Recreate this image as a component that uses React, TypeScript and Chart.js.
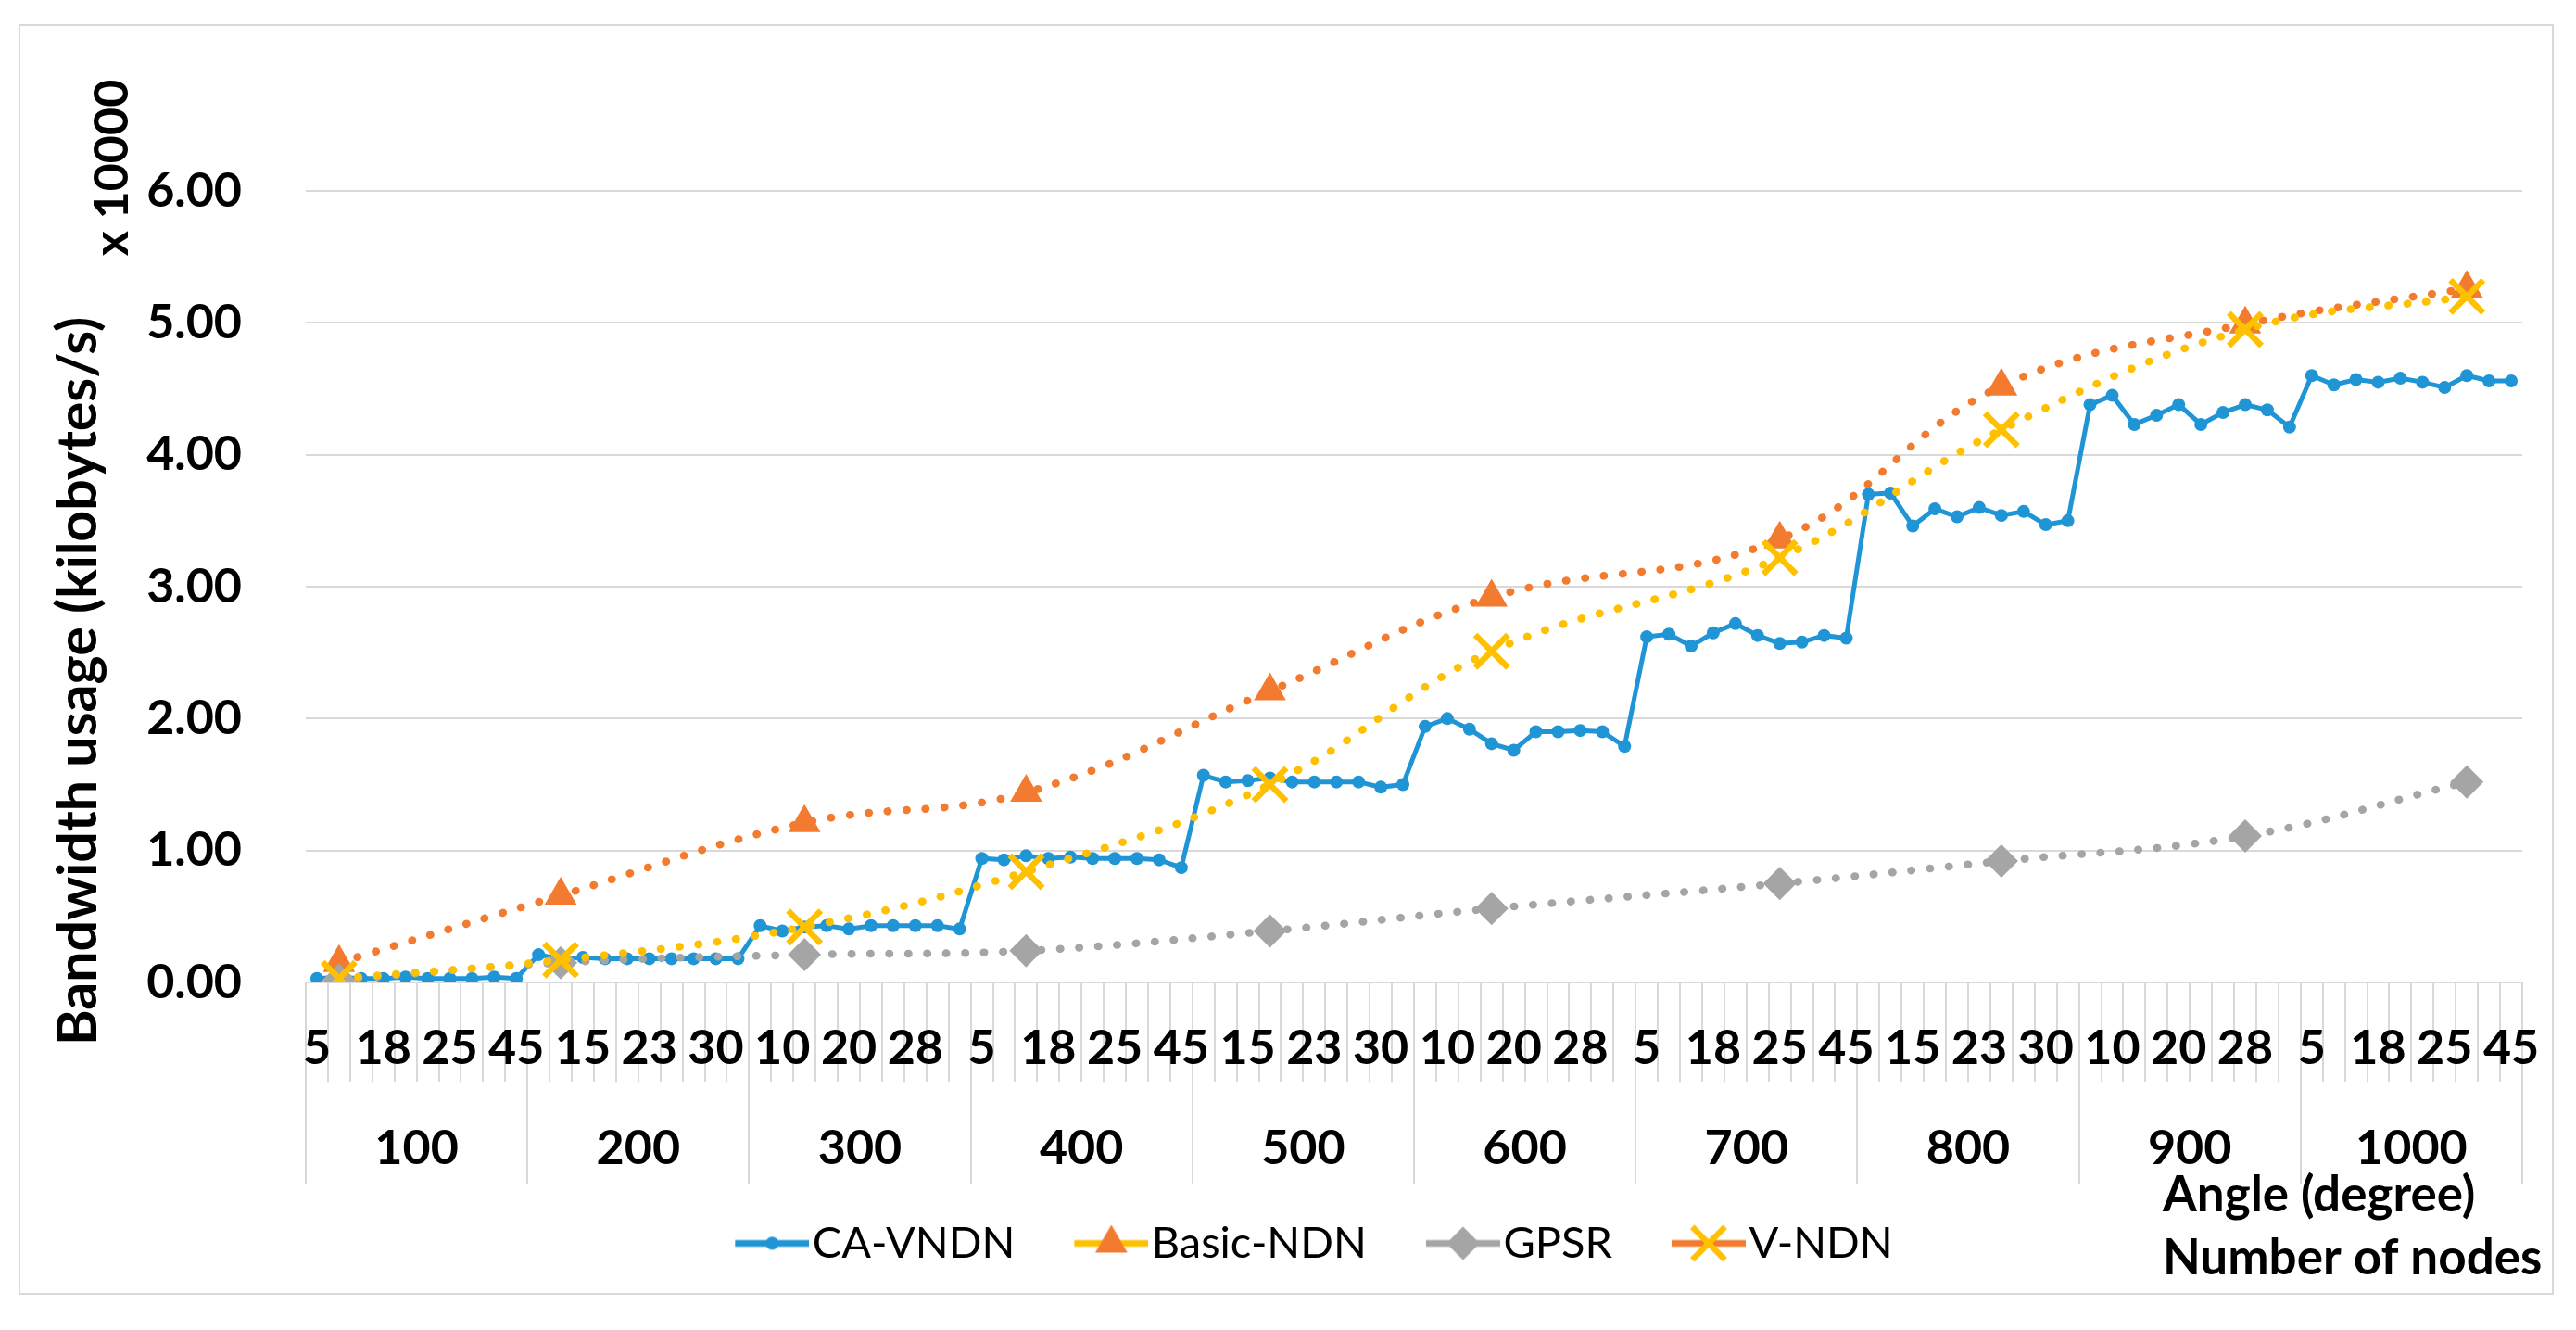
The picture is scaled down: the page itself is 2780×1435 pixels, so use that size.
import React, { useEffect, useRef } from 'react';
import { Chart, registerables } from 'chart.js';

Chart.register(...registerables);

// ---------------- data ----------------
const nodeGroups = ['100', '200', '300', '400', '500', '600', '700', '800', '900', '1000'];
const angles = ['5', '10', '15', '18', '20', '23', '25', '28', '30', '45'];
const categories = nodeGroups.flatMap(() => angles);

const caVndn = [
  0.03, 0.04, 0.03, 0.03, 0.04, 0.03, 0.03, 0.03, 0.04, 0.03,
  0.21, 0.18, 0.19, 0.18, 0.18, 0.18, 0.18, 0.18, 0.18, 0.18,
  0.43, 0.39, 0.42, 0.43, 0.405, 0.43, 0.43, 0.43, 0.43, 0.405,
  0.94, 0.93, 0.96, 0.94, 0.95, 0.94, 0.94, 0.94, 0.93, 0.87,
  1.57, 1.52, 1.53, 1.55, 1.52, 1.52, 1.52, 1.52, 1.48, 1.5,
  1.94, 2.0, 1.92, 1.81, 1.76, 1.9, 1.9, 1.91, 1.9, 1.79,
  2.62, 2.64, 2.55, 2.65, 2.72, 2.63, 2.57, 2.58, 2.63, 2.61,
  3.7, 3.71, 3.46, 3.59, 3.53, 3.6, 3.54, 3.57, 3.47, 3.5,
  4.38, 4.45, 4.23, 4.3, 4.38, 4.23, 4.32, 4.38, 4.34, 4.21,
  4.6, 4.53, 4.57, 4.55, 4.58, 4.55, 4.51, 4.6, 4.56, 4.56,
];

// category positions (index into categories) where the other three series have values
const markerIndex = [1, 11, 22, 32, 43, 53, 66, 76, 87, 97];
const basicNdn = [0.15, 0.66, 1.21, 1.44, 2.21, 2.92, 3.36, 4.52, 4.99, 5.26];
const gpsr = [0.02, 0.15, 0.21, 0.24, 0.39, 0.56, 0.75, 0.92, 1.11, 1.52];
const vNdn = [0.03, 0.17, 0.42, 0.84, 1.5, 2.51, 3.22, 4.19, 4.95, 5.2];

const yMin = 0;
const yMax = 6;
const yStep = 1;

const seriesNames = ['CA-VNDN', 'Basic-NDN', 'GPSR', 'V-NDN'];

// ---------------- styles ----------------
const BLUE = '#1f95d6';
const ORANGE = '#f27b2f';
const GRAY = '#a5a5a5';
const GOLD = '#ffc000';
const GRID = '#d9d9d9';
const FONT = "Lato, 'Liberation Sans', sans-serif";

function sparse(values: number[]) {
  const arr: (number | null)[] = categories.map(() => null);
  markerIndex.forEach((idx, k) => {
    arr[idx] = values[k];
  });
  return arr;
}

// legend symbol: a short line with the marker, drawn in the right part of a wider transparent canvas
function legendIcon(lineColor: string, kind: string, color: string) {
  const c = document.createElement('canvas');
  c.width = 140;
  c.height = 56;
  const ctx = c.getContext('2d') as CanvasRenderingContext2D;
  const x0 = 60;
  const cx = x0 + 40;
  const cy = 28;
  ctx.strokeStyle = lineColor;
  ctx.lineWidth = 7;
  ctx.beginPath();
  ctx.moveTo(x0, cy);
  ctx.lineTo(x0 + 80, cy);
  ctx.stroke();
  ctx.fillStyle = color;
  ctx.strokeStyle = color;
  ctx.beginPath();
  if (kind === 'circle') {
    ctx.arc(cx, cy, 7, 0, Math.PI * 2);
    ctx.fill();
  } else if (kind === 'triangle') {
    const r = 20;
    ctx.moveTo(cx, cy - r);
    ctx.lineTo(cx + r * 0.866, cy + r * 0.5);
    ctx.lineTo(cx - r * 0.866, cy + r * 0.5);
    ctx.closePath();
    ctx.fill();
  } else if (kind === 'diamond') {
    const r = 18;
    ctx.moveTo(cx, cy - r);
    ctx.lineTo(cx + r, cy);
    ctx.lineTo(cx, cy + r);
    ctx.lineTo(cx - r, cy);
    ctx.closePath();
    ctx.fill();
  } else {
    const h = 17.7;
    ctx.lineWidth = 6.5;
    ctx.moveTo(cx - h, cy - h);
    ctx.lineTo(cx + h, cy + h);
    ctx.moveTo(cx + h, cy - h);
    ctx.lineTo(cx - h, cy + h);
    ctx.stroke();
  }
  return c;
}

const titlesPlugin = {
  id: 'extraTitles',
  afterDraw(chart: any) {
    const ctx = chart.ctx as CanvasRenderingContext2D;
    ctx.save();
    ctx.fillStyle = '#000';
    // y-axis title
    ctx.save();
    ctx.font = `bold 59px ${FONT}`;
    ctx.translate(63, 707);
    ctx.rotate(-Math.PI / 2);
    ctx.textAlign = 'center';
    ctx.textBaseline = 'middle';
    ctx.fillText('Bandwidth usage (kilobytes/s)', 0, 0);
    ctx.restore();
    // multiplier
    ctx.save();
    ctx.font = `bold 52px ${FONT}`;
    ctx.translate(99, 153);
    ctx.rotate(-Math.PI / 2);
    ctx.textAlign = 'center';
    ctx.textBaseline = 'middle';
    ctx.fillText('x 10000', 0, 0);
    ctx.restore();
    // x-axis titles
    ctx.font = `bold 53px ${FONT}`;
    ctx.textAlign = 'left';
    ctx.textBaseline = 'alphabetic';
    ctx.fillText('Angle (degree)', 2312, 1279);
    ctx.fillText('Number of nodes', 2312, 1347);
    ctx.restore();
  },
};

export default function App() {
  const canvasRef = useRef<HTMLCanvasElement | null>(null);

  useEffect(() => {
    const canvas = canvasRef.current;
    if (!canvas) return;

    const icons = [
      legendIcon(BLUE, 'circle', BLUE),
      legendIcon(GOLD, 'triangle', ORANGE),
      legendIcon(GRAY, 'diamond', GRAY),
      legendIcon(ORANGE, 'cross', GOLD),
    ];

    const dotted = {
      borderWidth: 8.5,
      borderDash: [0.5, 20],
      borderCapStyle: 'round' as const,
      tension: 0.4,
      spanGaps: true,
      pointBorderWidth: 0,
    };

    const chart = new Chart(canvas, {
      type: 'line',
      data: {
        labels: categories,
        datasets: [
          {
            label: seriesNames[0],
            data: caVndn,
            borderColor: BLUE,
            backgroundColor: BLUE,
            borderWidth: 5,
            pointRadius: 7,
            pointStyle: 'circle',
            pointBackgroundColor: BLUE,
            pointBorderWidth: 0,
            tension: 0,
            order: 4,
          },
          {
            label: seriesNames[1],
            data: sparse(basicNdn),
            borderColor: ORANGE,
            backgroundColor: ORANGE,
            ...dotted,
            pointStyle: 'triangle',
            pointRadius: 20,
            pointBackgroundColor: ORANGE,
            order: 3,
          },
          {
            label: seriesNames[2],
            data: sparse(gpsr),
            borderColor: GRAY,
            backgroundColor: GRAY,
            ...dotted,
            pointStyle: 'rectRot',
            pointRadius: 18,
            pointBackgroundColor: GRAY,
            order: 2,
          },
          {
            label: seriesNames[3],
            data: sparse(vNdn),
            borderColor: GOLD,
            backgroundColor: GOLD,
            ...dotted,
            pointStyle: 'crossRot',
            pointRadius: 25,
            pointBorderColor: GOLD,
            pointBorderWidth: 6.5,
            order: 1,
          },
        ] as any,
      },
      options: {
        animation: false,
        responsive: true,
        maintainAspectRatio: false,
        layout: { padding: { left: 52, right: 32, top: 178, bottom: 20 } },
        plugins: {
          tooltip: { enabled: false },
          legend: {
            position: 'bottom',
            labels: {
              usePointStyle: true,
              pointStyleWidth: 100,
              padding: 24,
              color: '#000',
              font: { family: FONT, size: 47 },
              generateLabels: () =>
                seriesNames.map((name, i) => ({
                  text: name,
                  pointStyle: icons[i] as any,
                  datasetIndex: i,
                  hidden: false,
                  fontColor: '#000',
                  fillStyle: 'rgba(0,0,0,0)',
                  strokeStyle: 'rgba(0,0,0,0)',
                  lineWidth: 0,
                })),
            },
          },
        },
        scales: {
          x: {
            type: 'category',
            position: 'bottom',
            offset: true,
            weight: 0,
            grid: {
              offset: true,
              drawOnChartArea: false,
              drawTicks: true,
              tickLength: 107,
              color: GRID,
              lineWidth: 2,
            },
            border: { display: true, color: GRID, width: 2 },
            ticks: {
              autoSkip: false,
              maxRotation: 0,
              minRotation: 0,
              padding: -67,
              color: '#000',
              font: { family: FONT, size: 52, weight: 'bold', lineHeight: 1.2 },
              callback: (_v: any, index: number) => (index % 3 === 0 ? categories[index] : ''),
            },
            afterFit: (s: any) => {
              s.height = 107;
            },
          },
          x2: {
            type: 'category',
            position: 'bottom',
            labels: nodeGroups,
            offset: true,
            weight: 1,
            grid: {
              offset: true,
              drawOnChartArea: false,
              drawTicks: true,
              tickLength: 110,
              color: GRID,
              lineWidth: 2,
            },
            border: { display: false },
            ticks: {
              autoSkip: false,
              maxRotation: 0,
              minRotation: 0,
              padding: -69,
              color: '#000',
              font: { family: FONT, size: 52, weight: 'bold', lineHeight: 1.2 },
            },
            afterFit: (s: any) => {
              s.height = 127;
            },
          },
          y: {
            min: yMin,
            max: yMax,
            grid: { color: GRID, lineWidth: 2, drawTicks: false },
            border: { display: false },
            ticks: {
              stepSize: yStep,
              padding: 69,
              color: '#000',
              font: { family: FONT, size: 52, weight: 'bold' },
              callback: (v: any) => Number(v).toFixed(2),
            },
            afterFit: (s: any) => {
              s.width = 256;
            },
          },
        },
      } as any,
      plugins: [titlesPlugin],
    });

    return () => {
      chart.destroy();
    };
  }, []);

  return (
    <div
      style={{
        position: 'absolute',
        left: 20,
        top: 26,
        width: 2736,
        height: 1371,
        border: `2px solid ${GRID}`,
        boxSizing: 'border-box',
        background: '#fff',
      }}
    >
      <div style={{ position: 'relative', width: 2732, height: 1367 }}>
        <canvas ref={canvasRef} />
      </div>
    </div>
  );
}
